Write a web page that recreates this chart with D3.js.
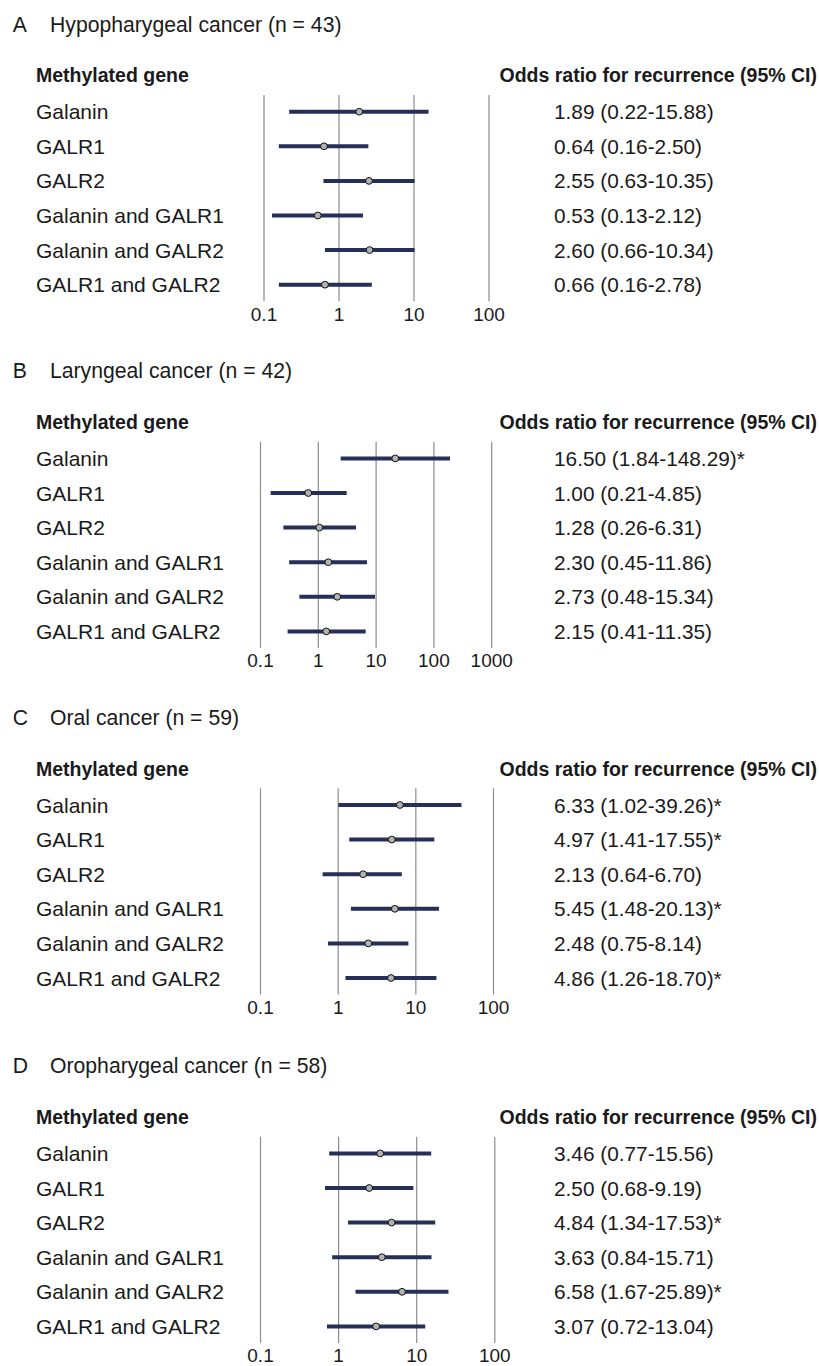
<!DOCTYPE html>
<html>
<head>
<meta charset="utf-8">
<script src="https://cdn.jsdelivr.net/npm/d3@7"></script>
<style>
  html, body { margin: 0; padding: 0; background: #ffffff; }
  svg { display: block; }
  text { font-family: "Liberation Sans", Arial, Helvetica, sans-serif; fill: #1a1a1a; }
</style>
</head>
<body>
<svg id="chart" width="819" height="1366"></svg>
<script>
// ---------------- DATA ----------------
const panelLetters = ["A", "B", "C", "D"];
const panelTitles = [
  "Hypopharygeal cancer (n = 43)",
  "Laryngeal cancer (n = 42)",
  "Oral cancer (n = 59)",
  "Oropharygeal cancer (n = 58)"
];
const genes = ["Galanin", "GALR1", "GALR2", "Galanin and GALR1", "Galanin and GALR2", "GALR1 and GALR2"];
const leftHeader = "Methylated gene";
const rightHeader = "Odds ratio for recurrence (95% CI)";

// Panel A
const orA = [1.89, 0.64, 2.55, 0.53, 2.60, 0.66];
const loA = [0.22, 0.16, 0.63, 0.13, 0.66, 0.16];
const hiA = [15.88, 2.50, 10.35, 2.12, 10.34, 2.78];
const textA = ["1.89 (0.22-15.88)", "0.64 (0.16-2.50)", "2.55 (0.63-10.35)", "0.53 (0.13-2.12)", "2.60 (0.66-10.34)", "0.66 (0.16-2.78)"];
const ticksA = [0.1, 1, 10, 100];

// Panel B (marks as drawn in the figure)
const orB = [21.9, 0.685, 1.06, 1.52, 2.17, 1.40];
const loB = [2.49, 0.153, 0.254, 0.32, 0.48, 0.30];
const hiB = [194, 3.16, 4.58, 7.1, 9.77, 6.74];
const textB = ["16.50 (1.84-148.29)*", "1.00 (0.21-4.85)", "1.28 (0.26-6.31)", "2.30 (0.45-11.86)", "2.73 (0.48-15.34)", "2.15 (0.41-11.35)"];
const ticksB = [0.1, 1, 10, 100, 1000];

// Panel C
const orC = [6.33, 4.97, 2.13, 5.45, 2.48, 4.86];
const loC = [1.02, 1.41, 0.64, 1.48, 0.75, 1.26];
const hiC = [39.26, 17.55, 6.70, 20.13, 8.14, 18.70];
const textC = ["6.33 (1.02-39.26)*", "4.97 (1.41-17.55)*", "2.13 (0.64-6.70)", "5.45 (1.48-20.13)*", "2.48 (0.75-8.14)", "4.86 (1.26-18.70)*"];
const ticksC = [0.1, 1, 10, 100];

// Panel D
const orD = [3.46, 2.50, 4.84, 3.63, 6.58, 3.07];
const loD = [0.77, 0.68, 1.34, 0.84, 1.67, 0.72];
const hiD = [15.56, 9.19, 17.53, 15.71, 25.89, 13.04];
const textD = ["3.46 (0.77-15.56)", "2.50 (0.68-9.19)", "4.84 (1.34-17.53)*", "3.63 (0.84-15.71)", "6.58 (1.67-25.89)*", "3.07 (0.72-13.04)"];
const ticksD = [0.1, 1, 10, 100];

// ---------------- LAYOUT ----------------
const panels = [
  { or: orA, lo: loA, hi: hiA, text: textA, ticks: ticksA },
  { or: orB, lo: loB, hi: hiB, text: textB, ticks: ticksB },
  { or: orC, lo: loC, hi: hiC, text: textC, ticks: ticksC },
  { or: orD, lo: loD, hi: hiD, text: textD, ticks: ticksD }
];
const panelTops = [95, 441.7, 788.3, 1136.7];
const xRanges = [[263.5, 488.5], [260, 491.2], [260, 493], [260, 494.3]];
const rowGap = 34.6;
const firstRowOffset = 16.7;

const svg = d3.select("#chart");

panels.forEach((p, i) => {
  const top = panelTops[i];
  const g = svg.append("g");
  const nRows = genes.length;
  const y = d3.scalePoint()
    .domain(genes)
    .range([top + firstRowOffset, top + firstRowOffset + rowGap * (nRows - 1)]);
  const lastRow = y(genes[nRows - 1]);
  const x = d3.scaleLog()
    .domain([p.ticks[0], p.ticks[p.ticks.length - 1]])
    .range(xRanges[i]);

  // Panel title
  g.append("text").attr("x", 12.7).attr("y", top - 63.3)
    .style("font-size", "21.2px").text(panelLetters[i]);
  g.append("text").attr("x", 50).attr("y", top - 63.3)
    .style("font-size", "21.2px").text(panelTitles[i]);

  // Headers
  g.append("text").attr("x", 36).attr("y", top - 12.8)
    .style("font-size", "19.5px").style("font-weight", "bold").text(leftHeader);
  g.append("text").attr("x", 499.5).attr("y", top - 12.8)
    .style("font-size", "19.5px").style("font-weight", "bold").text(rightHeader);

  // Grid lines via axis
  const axis = d3.axisBottom(x)
    .tickValues(p.ticks)
    .tickSize(-(lastRow + 16.5 - top))
    .tickFormat(d => d3.format("~g")(d));
  const ax = g.append("g")
    .attr("transform", `translate(0,${lastRow + 16.5})`)
    .call(axis);
  ax.select(".domain").remove();
  ax.selectAll(".tick line").attr("stroke", "#8c8c8c").attr("stroke-width", 1.2);
  ax.selectAll(".tick text")
    .attr("y", 19.5)
    .attr("dy", 0)
    .style("font-size", "19px")
    .style("font-family", "'Liberation Sans', Arial, sans-serif")
    .attr("fill", "#1a1a1a");

  // Row labels
  g.selectAll(".gene").data(genes).enter().append("text")
    .attr("x", 36).attr("y", d => y(d) + 7.5)
    .style("font-size", "21px").text(d => d);

  // Value labels
  g.selectAll(".val").data(p.text).enter().append("text")
    .attr("x", 554).attr("y", (d, k) => y(genes[k]) + 7.5)
    .style("font-size", "20.8px").text(d => d);

  // CI lines
  g.selectAll(".ci").data(genes).enter().append("line")
    .attr("x1", (d, k) => x(p.lo[k]))
    .attr("x2", (d, k) => x(p.hi[k]))
    .attr("y1", d => y(d)).attr("y2", d => y(d))
    .attr("stroke", "#262f57").attr("stroke-width", 4);

  // Points
  g.selectAll(".pt").data(genes).enter().append("circle")
    .attr("cx", (d, k) => x(p.or[k]))
    .attr("cy", d => y(d))
    .attr("r", 3.4)
    .attr("fill", "#b3b3b3").attr("stroke", "#111").attr("stroke-width", 1);
});
</script>
</body>
</html>
